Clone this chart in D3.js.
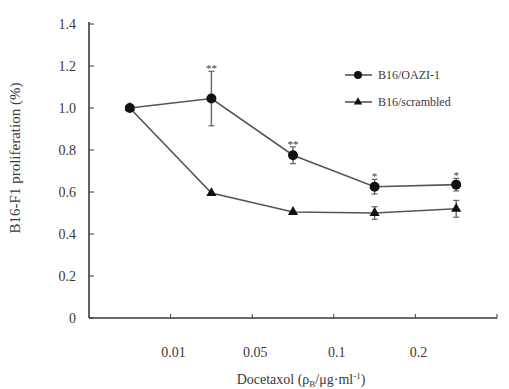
<!DOCTYPE html>
<html>
<head>
<meta charset="utf-8">
<script src="https://cdn.jsdelivr.net/npm/d3@7"></script>
<style>
  body { margin: 0; background: #fff; }
  svg text { font-family: "Liberation Serif", "Times New Roman", serif; fill: #3a3a3a; }
</style>
</head>
<body>
<svg id="chart" width="509" height="389"></svg>
<script>
// ---- data ----
const doseLabels = ["0.01", "0.05", "0.1", "0.2"];
const oaziValues = [1.0, 1.045, 0.775, 0.625, 0.635];
const oaziErrors = [0.01, 0.13, 0.04, 0.035, 0.03];
const oaziStars = ["", "**", "**", "*", "*"];
const scrambledValues = [1.0, 0.595, 0.505, 0.5, 0.52];
const scrambledErrors = [0.01, 0.01, 0.01, 0.03, 0.04];
const yTicks = [0, 0.2, 0.4, 0.6, 0.8, 1.0, 1.2, 1.4];

const svg = d3.select("#chart");
const plotLeft = 89, plotRight = 497, plotTop = 24, plotBottom = 318;
const ink = "#3a3a3a";

// x: five dose groups, each one band wide
const x = d3.scaleLinear().domain([0, oaziValues.length]).range([plotLeft, plotRight]);
const y = d3.scaleLinear().domain([0, 1.4]).range([plotBottom, plotTop]);
const cx = i => x(i + 0.5);

// ---- axes ----
svg.append("line").attr("x1", plotLeft).attr("x2", plotLeft).attr("y1", plotTop - 2).attr("y2", plotBottom)
  .attr("stroke", ink).attr("stroke-width", 1.6);
svg.append("line").attr("x1", plotLeft).attr("x2", plotRight).attr("y1", plotBottom).attr("y2", plotBottom)
  .attr("stroke", ink).attr("stroke-width", 1.6);

yTicks.forEach(t => {
  svg.append("line").attr("x1", plotLeft).attr("x2", plotLeft + 5).attr("y1", y(t)).attr("y2", y(t))
    .attr("stroke", ink).attr("stroke-width", 1);
  svg.append("text").attr("x", 76).attr("y", y(t) + 5).attr("text-anchor", "end")
    .style("font-size", "14px").text(t === 0 ? "0" : t.toFixed(1));
});

d3.range(1, oaziValues.length + 1).forEach(i => {
  svg.append("line").attr("x1", x(i)).attr("x2", x(i)).attr("y1", plotBottom).attr("y2", plotBottom - 4)
    .attr("stroke", ink).attr("stroke-width", 1);
});
doseLabels.forEach((lab, i) => {
  svg.append("text").attr("x", x(i + 1) + 3).attr("y", 357).attr("text-anchor", "middle")
    .style("font-size", "14px").text(lab);
});

// axis titles
const xt = svg.append("text").attr("x", 301).attr("y", 384).attr("text-anchor", "middle")
  .style("font-size", "14px");
xt.append("tspan").text("Docetaxol (ρ");
xt.append("tspan").attr("dy", 3).style("font-size", "9px").text("B");
xt.append("tspan").attr("dy", -3).text("/μg·ml");
xt.append("tspan").attr("dy", -5).style("font-size", "9px").text("-1");
xt.append("tspan").attr("dy", 5).text(")");

svg.append("text").attr("transform", "translate(20,158) rotate(-90)").attr("text-anchor", "middle")
  .style("font-size", "15px").text("B16-F1 proliferation (%)");

// ---- series ----
const line = d3.line().x((d, i) => cx(i)).y(d => y(d));
const lineColor = "#555";

function errorBars(vals, errs) {
  vals.forEach((v, i) => {
    if (errs[i] < 0.02) return;
    svg.append("line").attr("x1", cx(i)).attr("x2", cx(i))
      .attr("y1", y(v + errs[i])).attr("y2", y(v - errs[i]))
      .attr("stroke", "#666").attr("stroke-width", 1.4);
    [v + errs[i], v - errs[i]].forEach(e => {
      svg.append("line").attr("x1", cx(i) - 3).attr("x2", cx(i) + 3)
        .attr("y1", y(e)).attr("y2", y(e)).attr("stroke", "#666").attr("stroke-width", 1.2);
    });
  });
}

svg.append("path").attr("d", line(scrambledValues)).attr("fill", "none")
  .attr("stroke", lineColor).attr("stroke-width", 1.6);
svg.append("path").attr("d", line(oaziValues)).attr("fill", "none")
  .attr("stroke", lineColor).attr("stroke-width", 1.6);

errorBars(scrambledValues, scrambledErrors);
errorBars(oaziValues, oaziErrors);

const tri = d3.symbol().type(d3.symbolTriangle).size(45);
scrambledValues.forEach((v, i) => {
  svg.append("path").attr("d", tri()).attr("transform", `translate(${cx(i)},${y(v)})`)
    .attr("fill", "#111");
});
oaziValues.forEach((v, i) => {
  svg.append("circle").attr("cx", cx(i)).attr("cy", y(v)).attr("r", 5).attr("fill", "#111");
});

oaziStars.forEach((s, i) => {
  if (!s) return;
  svg.append("text").attr("x", cx(i)).attr("y", y(oaziValues[i] + oaziErrors[i]) + 1)
    .attr("text-anchor", "middle").style("font-size", "11px").text(s);
});

// ---- legend ----
const legend = [
  { name: "B16/OAZI-1", shape: "circle" },
  { name: "B16/scrambled", shape: "triangle" }
];
legend.forEach((d, i) => {
  const ly = 75 + i * 27;
  svg.append("line").attr("x1", 345).attr("x2", 372).attr("y1", ly).attr("y2", ly)
    .attr("stroke", lineColor).attr("stroke-width", 1.6);
  if (d.shape === "circle") {
    svg.append("circle").attr("cx", 358).attr("cy", ly).attr("r", 4).attr("fill", "#111");
  } else {
    svg.append("path").attr("d", d3.symbol().type(d3.symbolTriangle).size(30)())
      .attr("transform", `translate(358,${ly})`).attr("fill", "#111");
  }
  svg.append("text").attr("x", 378).attr("y", ly + 4).style("font-size", "12px").text(d.name);
});
</script>
</body>
</html>
